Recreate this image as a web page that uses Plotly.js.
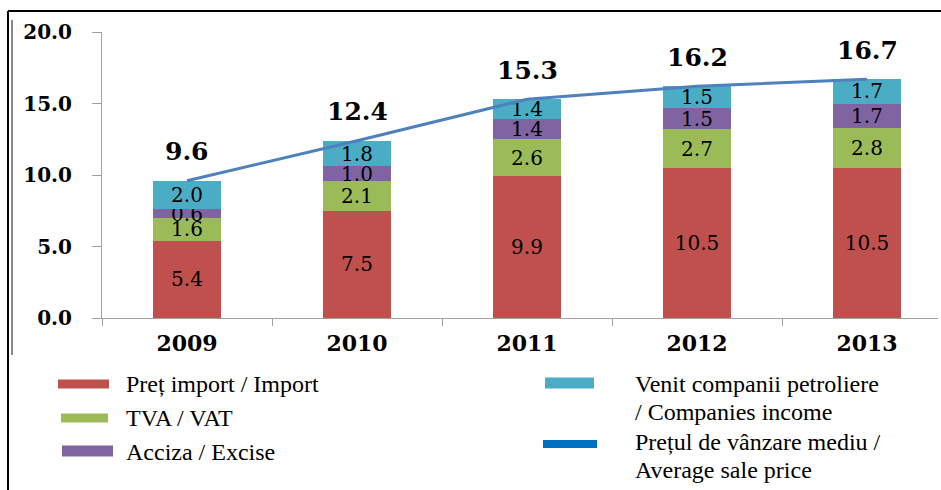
<!DOCTYPE html>
<html><head><meta charset="utf-8">
<script src="https://cdn.plot.ly/plotly-3.0.1.min.js"></script>
<style>
html,body{margin:0;padding:0;background:#fff;overflow:hidden;}
#chart{width:941px;height:490px;}
</style>
</head><body>
<div id="chart"></div>
<script>
const years = ['2009', '2010', '2011', '2012', '2013'];
const importPrice = [5.4, 7.5, 9.9, 10.5, 10.5];
const vat = [1.6, 2.1, 2.6, 2.7, 2.8];
const excise = [0.6, 1.0, 1.4, 1.5, 1.7];
const companiesIncome = [2.0, 1.8, 1.4, 1.5, 1.7];
const averagePrice = [9.6, 12.4, 15.3, 16.2, 16.7];
const yTickValues = [0, 5, 10, 15, 20];
const yTickLabels = ['0.0', '5.0', '10.0', '15.0', '20.0'];
const seriesNames = ['Preț import / Import', 'TVA / VAT', 'Acciza / Excise',
  'Venit companii petroliere<br>/ Companies income', 'Prețul de vânzare mediu /<br>Average sale price'];
const colors = ['#C0504D', '#9BBB59', '#8064A2', '#4BACC6', '#4F81BD'];
const legendLineColor = '#0070C0';

const W = 941, H = 490, L = 102, R = 3, T = 32, B = 172;
const PW = W - L - R, PH = H - T - B;
const px = x => (x - L) / PW;
const py = y => (H - B - y) / PH;

const chartFont = 'DejaVu Serif, Liberation Serif, serif';
const legendFont = 'Liberation Serif, Times New Roman, serif';
const segFont = {family: chartFont, size: 20, color: '#000'};

function barTrace(vals, i) {
  return {
    type: 'bar', x: years, y: vals, name: seriesNames[i],
    marker: {color: colors[i], line: {width: 0}},
    text: vals.map(v => v.toFixed(1)), textposition: 'inside',
    insidetextanchor: 'middle', textangle: 0, constraintext: 'none',
    textfont: segFont, hoverinfo: 'skip', showlegend: false
  };
}

const traces = [
  barTrace(importPrice, 0), barTrace(vat, 1), barTrace(excise, 2), barTrace(companiesIncome, 3),
  {type: 'scatter', mode: 'lines', x: years, y: averagePrice, name: seriesNames[4],
   line: {color: colors[4], width: 3}, showlegend: false, hoverinfo: 'skip'}
];

// totals above the line (x given as category index so it is not read as a number)
const annotations = years.map((yr, i) => ({
  x: i, y: averagePrice[i], xref: 'x', yref: 'y', yshift: 29, showarrow: false,
  text: averagePrice[i].toFixed(1), font: {family: chartFont, size: 25, color: '#000', weight: 'bold'}
}));

const shapes = [
  {type: 'line', xref: 'paper', yref: 'paper', x0: px(8), x1: px(941), y0: py(11), y1: py(11), line: {color: '#000', width: 2}},
  {type: 'line', xref: 'paper', yref: 'paper', x0: px(8), x1: px(8), y0: py(11), y1: py(490), line: {color: '#000', width: 2}},
  {type: 'line', xref: 'paper', yref: 'paper', x0: px(12), x1: px(12), y0: py(20), y1: py(355), line: {color: '#888', width: 2}}
];

// manual legend (swatch + text lines)
const legendItems = [
  {sx0: 58, sx1: 109, sy: 384, h: 9, color: colors[0], tx: 124, ty: 384, name: seriesNames[0]},
  {sx0: 61, sx1: 108, sy: 418, h: 9, color: colors[1], tx: 124, ty: 418, name: seriesNames[1]},
  {sx0: 62, sx1: 113, sy: 451, h: 11, color: colors[2], tx: 124, ty: 452, name: seriesNames[2]},
  {sx0: 545, sx1: 594, sy: 383, h: 11, color: colors[3], tx: 633, ty: 384, name: seriesNames[3]},
  {sx0: 543, sx1: 597, sy: 444, h: 8, color: legendLineColor, tx: 633, ty: 442, name: seriesNames[4]}
];
legendItems.forEach(it => {
  shapes.push({type: 'rect', xref: 'paper', yref: 'paper', x0: px(it.sx0), x1: px(it.sx1),
    y0: py(it.sy - it.h / 2), y1: py(it.sy + it.h / 2), fillcolor: it.color, line: {width: 0}});
  it.name.split('<br>').forEach((line, k) => {
    annotations.push({xref: 'paper', yref: 'paper', x: px(it.tx), y: py(it.ty + k * 28), xanchor: 'left', yanchor: 'middle',
      align: 'left', showarrow: false, text: line, font: {family: legendFont, size: 24, color: '#000'}});
  });
});

const layout = {
  width: W, height: H, margin: {l: L, r: R, t: T, b: B, pad: 0},
  paper_bgcolor: '#fff', plot_bgcolor: '#fff',
  barmode: 'stack', bargap: 0.595,
  showlegend: false,
  xaxis: {type: 'category', range: [-0.5, -0.5 + PW / 170], showline: true, linecolor: '#a0a0a0', linewidth: 1,
    ticks: 'outside', tickson: 'boundaries', ticklen: 7, tickcolor: '#a0a0a0', showgrid: false, zeroline: false,
    ticklabelstandoff: 6,
    tickfont: {family: chartFont, size: 22, color: '#000', weight: 'bold'}, fixedrange: true},
  yaxis: {range: [0, 20], tickvals: yTickValues, ticktext: yTickLabels, showline: true, linecolor: '#a0a0a0', linewidth: 1,
    ticks: 'outside', ticklen: 9, tickcolor: '#a0a0a0', showgrid: false, zeroline: false, ticklabelstandoff: 16,
    tickfont: {family: chartFont, size: 20, color: '#000', weight: 'bold'}, fixedrange: true},
  annotations: annotations, shapes: shapes
};

Plotly.newPlot('chart', traces, layout, {staticPlot: true, displayModeBar: false});
</script></body></html>
